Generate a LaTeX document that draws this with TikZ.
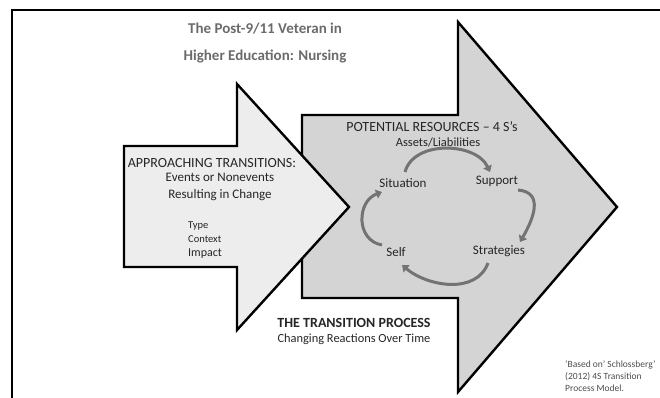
\documentclass[tikz,border=0pt]{standalone}
\usepackage{fontspec}
\setmainfont{Carlito}
\usetikzlibrary{arrows.meta}
\colorlet{shadeBig}{black!17}
\colorlet{shadeSmall}{black!7}
\colorlet{titleGray}{black!58}
\colorlet{textDark}{black!85}
\colorlet{cycleGray}{black!55}
\tikzstyle{outline}=[draw=black, line width=2.4pt, line join=miter]
\tikzstyle{heading}=[text=textDark, inner sep=1pt, font=\fontsize{14}{16}\selectfont]
\tikzstyle{body}=[text=textDark, inner sep=1pt, font=\fontsize{13}{17}\selectfont, align=center]
\tikzstyle{sword}=[text=textDark, inner sep=1pt, font=\fontsize{13}{15}\selectfont]
\tikzstyle{cyclearrow}=[draw=cycleGray, line width=3pt, -{Triangle[length=6pt,width=9pt]}]

\begin{document}
\begin{tikzpicture}[x=1pt, y=1pt]
	\useasboundingbox (0,0) rectangle (660,397);
	\clip (0,0) rectangle (660,397);

	% Outer frame
	\draw[line width=1.6pt] (12,-20) rectangle (700,387);

	% The two block arrows
	\filldraw[outline, fill=shadeBig] (302,282) -- (458,282) -- (458,375) -- (617,190)
		-- (458,5) -- (458,99) -- (302,99) -- cycle;
	\filldraw[outline, fill=shadeSmall] (124,251) -- (237,251) -- (237,313) -- (349,190)
		-- (237,67) -- (237,130) -- (124,130) -- cycle;

	% Title
	\node[text=titleGray, align=center, font=\bfseries\fontsize{15}{27}\selectfont] (title) at (265,354)
		{The Post-9/11 Veteran in\\Higher Education: Nursing};

	% Approaching transitions
	\node[heading] (appr) at (212,234) {APPROACHING TRANSITIONS:};
	\node[body] (events) at (220,210) {Events or Nonevents\\Resulting in Change};
	\node[text=textDark, anchor=west, inner sep=0pt, font=\fontsize{10.5}{13}\selectfont] (type) at (188,171) {Type};
	\node[text=textDark, anchor=west, inner sep=0pt, font=\fontsize{10.5}{13}\selectfont] (ctx) at (188,158) {Context};
	\node[text=textDark, anchor=west, inner sep=0pt, font=\fontsize{12}{13}\selectfont] (impact) at (188,143) {Impact};

	% Potential resources
	\node[heading] (res) at (432,270) {POTENTIAL RESOURCES -- 4 S's};
	\node[sword, font=\fontsize{12.5}{14}\selectfont] (assets) at (438,255) {Assets/Liabilities};

	\node[sword] (sit)   at (403,214) {Situation};
	\node[sword] (sup)   at (497,216) {Support};
	\node[sword] (strat) at (499,146) {Strategies};
	\node[sword] (self)  at (396,145) {Self};

	\draw[cyclearrow] ([shift={(2,11)}]sit.center) to[out=75, in=115] ([shift={(-7,9)}]sup.center);
	\draw[cyclearrow] ([shift={(21,-9)}]sup.center) to[out=-5, in=60, looseness=1.3] ([shift={(21,9)}]strat.center);
	\draw[cyclearrow] ([shift={(-11,-12)}]strat.center) to[out=-110, in=-40] ([shift={(6,-13)}]self.center);
	\draw[cyclearrow] ([shift={(-14,7)}]self.center) to[out=170, in=200, looseness=1.3] ([shift={(-21,-9)}]sit.center);

	% Transition process
	\node[heading, font=\bfseries\fontsize{14}{16}\selectfont] (proc) at (354,74) {THE TRANSITION PROCESS};
	\node[sword, font=\fontsize{12.4}{14}\selectfont] (react) at (354,58) {Changing Reactions Over Time};

	% Source note
	\node[text=black!70, anchor=north west, align=left, inner sep=0pt, font=\fontsize{9.5}{12}\selectfont] (note) at (565,37)
		{‘Based on’ Schlossberg’\\(2012) 4S Transition\\Process Model.};
\end{tikzpicture}
\end{document}
